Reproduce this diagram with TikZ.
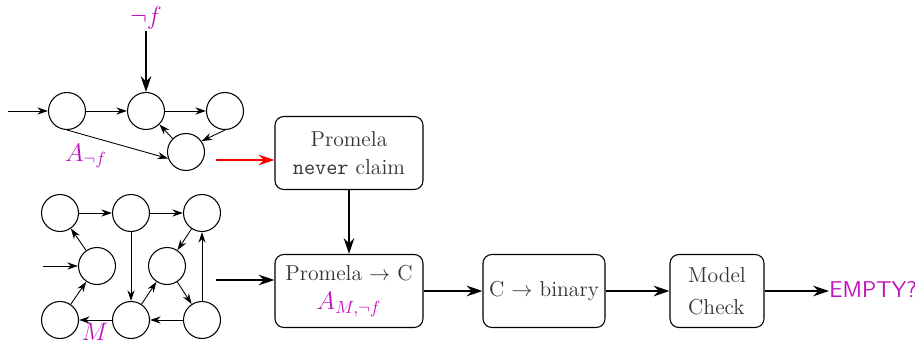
\documentclass[tikz,border=0pt]{standalone}
\usepackage{fontspec}
\usetikzlibrary{arrows.meta}
\definecolor{mag}{RGB}{190,20,190}
\begin{document}
\begin{tikzpicture}[x=0.02cm,y=-0.02cm,
  st/.style={circle,draw,line width=0.6pt,minimum size=0.74cm,inner sep=0pt},
  ar/.style={-{Stealth[length=6pt,width=4pt]},line width=0.5pt},
  thk/.style={-{Stealth[length=9pt,width=6pt]},line width=1.2pt},
  box/.style={draw,rounded corners=5pt,line width=0.6pt,minimum width=2.96cm,minimum height=1.46cm,inner sep=2pt,align=center,font=\fontsize{12.3}{16}\selectfont,text=black!80},
  lab/.style={text=mag,font=\fontsize{14}{16}\selectfont}]
\useasboundingbox (0,0) rectangle (915,344);
% top automaton
\node[st] (a1) at (67,111) {};
\node[st] (a2) at (146,111) {};
\node[st] (a3) at (225,111) {};
\node[st] (a4) at (186,152) {};
\coordinate (ai) at (8,111);
\draw[ar] (ai) -- (a1);
\draw[ar] (a1) -- (a2);
\draw[ar] (a2) -- (a3);
\draw[ar] (a3.south) -- (a4.35);
\draw[ar] (a4.north west) -- (a2.south east);
\draw[ar] (a1.south) -- (a4.200);
\node[lab,inner sep=1pt] (nf) at (146,18) {$\neg f$};
\draw[thk] (nf.south) -- (a2.north);
\node[lab] (anf) at (86,156) {$A_{\neg f}$};
% bottom automaton
\node[st] (m1) at (60,213) {};
\node[st] (m2) at (131,213) {};
\node[st] (m3) at (202,213) {};
\node[st] (m4) at (97,266) {};
\node[st] (m5) at (167,266) {};
\node[st] (m6) at (60,320) {};
\node[st] (m7) at (131,320) {};
\node[st] (m8) at (202,320) {};
\coordinate (mi) at (43,266);
\draw[ar] (mi) -- (m4);
\draw[ar] (m1) -- (m2);
\draw[ar] (m2) -- (m3);
\draw[ar] (m4) -- (m1);
\draw[ar] (m6) -- (m4);
\draw[ar] (m2) -- (m7);
\draw[ar] (m3) -- (m5);
\draw[ar] (m5) -- (m8);
\draw[ar] (m7) -- (m5);
\draw[ar] (m8) -- (m3);
\draw[ar] (m8) -- (m7);
\draw[ar] (m7) -- (m6);
\node[lab] (ml) at (95,332) {$M$};
% boxes
\node[box] (b1) at (349,153) {Promela\\\texttt{never} claim};
\node[box] (b2) at (349,291) {Promela $\to$ C\\[1pt]\textcolor{mag}{\fontsize{14}{16}\selectfont$A_{M,\neg f}$}};
\node[box,minimum width=2.44cm] (b3) at (544,291) {C $\to$ binary};
\node[box,minimum width=1.88cm,align=left] (b4) at (717,291) {Model\\[2pt]Check};
\node[text=mag,font=\fontsize{13}{15}\selectfont\sffamily,anchor=west,inner sep=0pt] (e) at (829,289) {EMPTY?};
\coordinate (r1) at (216,160);
\coordinate (k1) at (216,280);
\draw[thk,red] (r1) -- (r1-|b1.west);
\draw[thk] (k1) -- (k1-|b2.west);
\draw[thk] (b1.south) -- (b2.north);
\draw[thk] (b2) -- (b3);
\draw[thk] (b3) -- (b4);
\draw[thk] (b4.east) -- (e.west|-b4.east);
\end{tikzpicture}
\end{document}
